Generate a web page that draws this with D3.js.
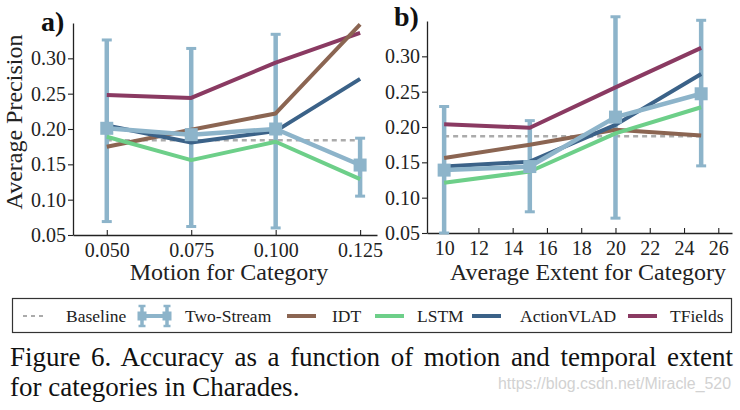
<!DOCTYPE html>
<html>
<head>
<meta charset="utf-8">
<script src="https://cdn.jsdelivr.net/npm/d3@7"></script>
<style>
  body { margin: 0; background: #fff; }
  svg { display: block; }
</style>
</head>
<body>
<svg id="chart" width="740" height="410"></svg>
<script>
// ---------- data ----------
const seriesNames = ["Baseline", "Two-Stream", "IDT", "LSTM", "ActionVLAD", "TFields"];
const yTicks = [0.05, 0.10, 0.15, 0.20, 0.25, 0.30];

// panel a) Motion for Category
const motionX = [0.050, 0.075, 0.100, 0.125];
const motionTicks = [0.050, 0.075, 0.100, 0.125];
const motionBaseline = [0.184, 0.184, 0.184, 0.184];
const motionTwoStream = [0.201, 0.192, 0.200, 0.149];
const motionTwoStreamLow = [0.069, 0.062, 0.060, 0.105];
const motionTwoStreamHigh = [0.326, 0.314, 0.334, 0.187];
const motionIDT = [0.175, 0.199, 0.222, 0.348];
const motionLSTM = [0.189, 0.156, 0.182, 0.129];
const motionActionVLAD = [0.205, 0.181, 0.197, 0.271];
const motionTFields = [0.248, 0.244, 0.294, 0.336];

// panel b) Average Extent for Category
const extentX = [10, 15, 20, 25];
const extentTicks = [10, 12, 14, 16, 18, 20, 22, 24, 26];
const extentBaseline = [0.187, 0.187, 0.187, 0.187];
const extentTwoStream = [0.139, 0.144, 0.214, 0.247];
const extentTwoStreamLow = [0.050, 0.080, 0.071, 0.145];
const extentTwoStreamHigh = [0.229, 0.209, 0.356, 0.351];
const extentIDT = [0.156, 0.175, 0.196, 0.188];
const extentLSTM = [0.121, 0.137, 0.191, 0.228];
const extentActionVLAD = [0.144, 0.151, 0.203, 0.275];
const extentTFields = [0.204, 0.199, 0.256, 0.312];

const captionLines = ["Figure 6. Accuracy as a function of motion and temporal extent",
                      "for categories in Charades."];
const watermark = "https://blog.csdn.net/Miracle_520";

// ---------- style ----------
const SERIF = "'Liberation Serif', 'Times New Roman', serif";
const SANS = "'Liberation Sans', Arial, sans-serif";
const colors = {
  "Baseline": "#ababab",
  "Two-Stream": "#8db4ca",
  "IDT": "#8b6552",
  "LSTM": "#6dcf89",
  "ActionVLAD": "#3b6288",
  "TFields": "#8a3a62"
};
const axisColor = "#222";

const svg = d3.select("#chart");

function drawPanel(p) {
  const x = d3.scaleLinear().domain(p.xDomain).range(p.xRange);
  const y = d3.scaleLinear().domain([0.05, 0.35]).range(p.yRange);
  const g = svg.append("g");

  // axes
  const ya = d3.axisLeft(y).tickValues(yTicks).tickFormat(d3.format(".2f"))
    .tickSize(5).tickSizeOuter(0).tickPadding(2);
  const gy = g.append("g").attr("transform", `translate(${p.xRange[0]},0)`).call(ya);
  const xa = d3.axisBottom(x).tickValues(p.ticks).tickFormat(p.fmt)
    .tickSize(-5).tickSizeOuter(0).tickPadding(8);
  const gx = g.append("g").attr("transform", `translate(0,${p.yRange[0]})`).call(xa);
  [gx, gy].forEach(a => {
    a.select(".domain").attr("stroke", axisColor).attr("stroke-width", 1.3);
    a.selectAll(".tick line").attr("stroke", axisColor).attr("stroke-width", 1.1);
    a.selectAll(".tick text").attr("fill", axisColor)
      .style("font-family", SERIF).style("font-size", "20px");
  });

  const line = d3.line().x((d, i) => x(p.xs[i])).y(d => y(d));

  // baseline
  g.append("path").datum(p.baseline).attr("d", line)
    .attr("fill", "none").attr("stroke", colors["Baseline"])
    .attr("stroke-width", 2.4).attr("stroke-dasharray", "5,4");

  // error bars
  const eb = g.append("g").attr("stroke", colors["Two-Stream"]);
  p.xs.forEach((xv, i) => {
    const cx = x(xv);
    eb.append("line").attr("x1", cx).attr("x2", cx)
      .attr("y1", y(p.low[i])).attr("y2", y(p.high[i])).attr("stroke-width", 4.5);
    [p.low[i], p.high[i]].forEach(v => {
      eb.append("line").attr("x1", cx - 5).attr("x2", cx + 5)
        .attr("y1", y(v)).attr("y2", y(v)).attr("stroke-width", 3);
    });
  });

  // other series
  [["TFields", p.tfields], ["IDT", p.idt], ["LSTM", p.lstm], ["ActionVLAD", p.actionvlad]]
    .forEach(([name, vals]) => {
      g.append("path").datum(vals).attr("d", line)
        .attr("fill", "none").attr("stroke", colors[name])
        .attr("stroke-width", 4).attr("stroke-linejoin", "round");
    });

  // two-stream line + markers
  g.append("path").datum(p.twoStream).attr("d", line)
    .attr("fill", "none").attr("stroke", colors["Two-Stream"])
    .attr("stroke-width", 4.5).attr("stroke-linejoin", "round");
  g.selectAll("rect.m").data(p.twoStream).join("rect")
    .attr("x", (d, i) => x(p.xs[i]) - 6.5).attr("y", d => y(d) - 6.5)
    .attr("width", 13).attr("height", 13).attr("fill", colors["Two-Stream"]);

  // panel letter
  g.append("text").attr("x", p.letterX).attr("y", p.letterY)
    .style("font-family", SERIF).style("font-weight", "bold").style("font-size", "28px")
    .attr("fill", "#111").text(p.letter);

  // x label
  g.append("text").attr("x", p.xLabelX).attr("y", 280).attr("text-anchor", "middle")
    .style("font-family", SERIF).style("font-size", "24px").attr("fill", axisColor)
    .text(p.xLabel);
}

drawPanel({
  xDomain: [0.04, 0.13], xRange: [73, 377], yRange: [235, 23],
  ticks: motionTicks, fmt: d3.format(".3f"), xs: motionX,
  baseline: motionBaseline, twoStream: motionTwoStream,
  low: motionTwoStreamLow, high: motionTwoStreamHigh,
  idt: motionIDT, lstm: motionLSTM, actionvlad: motionActionVLAD, tfields: motionTFields,
  letter: "a)", letterX: 41, letterY: 31, xLabel: "Motion for Category", xLabelX: 229
});
drawPanel({
  xDomain: [9, 26.8], xRange: [427, 732], yRange: [233, 21],
  ticks: extentTicks, fmt: d3.format("d"), xs: extentX,
  baseline: extentBaseline, twoStream: extentTwoStream,
  low: extentTwoStreamLow, high: extentTwoStreamHigh,
  idt: extentIDT, lstm: extentLSTM, actionvlad: extentActionVLAD, tfields: extentTFields,
  letter: "b)", letterX: 394, letterY: 26, xLabel: "Average Extent for Category", xLabelX: 588
});

// y label
svg.append("text").attr("transform", "translate(22,122) rotate(-90)")
  .attr("text-anchor", "middle")
  .style("font-family", SERIF).style("font-size", "24px").attr("fill", axisColor)
  .text("Average Precision");

// ---------- legend ----------
const legendIconX = [23, 138, 287, 375, 472, 628];
const legendTextX = [66, 185, 332, 417, 520, 670];
const lg = svg.append("g");
lg.append("rect").attr("x", 12.5).attr("y", 298.5).attr("width", 719).attr("height", 34)
  .attr("fill", "#fff").attr("stroke", "#333").attr("stroke-width", 1.2);
const ly = 316;
seriesNames.forEach((name, i) => {
  const ix = legendIconX[i];
  if (name === "Baseline") {
    lg.append("line").attr("x1", ix).attr("x2", ix + 21).attr("y1", ly).attr("y2", ly)
      .attr("stroke", colors[name]).attr("stroke-width", 2).attr("stroke-dasharray", "4,4");
  } else if (name === "Two-Stream") {
    lg.append("line").attr("x1", ix + 4).attr("x2", ix + 29).attr("y1", ly).attr("y2", ly)
      .attr("stroke", colors[name]).attr("stroke-width", 4);
    [ix + 4, ix + 29].forEach(cx => {
      lg.append("line").attr("x1", cx).attr("x2", cx).attr("y1", ly - 10).attr("y2", ly + 10)
        .attr("stroke", colors[name]).attr("stroke-width", 3.5);
      [ly - 10, ly + 10].forEach(cy => lg.append("line").attr("x1", cx - 3.5).attr("x2", cx + 3.5)
        .attr("y1", cy).attr("y2", cy).attr("stroke", colors[name]).attr("stroke-width", 2.5));
      lg.append("rect").attr("x", cx - 4.5).attr("y", ly - 4.5).attr("width", 9).attr("height", 9)
        .attr("fill", colors[name]);
    });
  } else {
    lg.append("line").attr("x1", ix).attr("x2", ix + 29).attr("y1", ly).attr("y2", ly)
      .attr("stroke", colors[name]).attr("stroke-width", 4);
  }
  lg.append("text").attr("x", legendTextX[i]).attr("y", 322)
    .style("font-family", SERIF).style("font-size", "17.5px").attr("fill", "#222")
    .text(name);
});

// ---------- caption ----------
const cap1 = svg.append("text").attr("x", 10).attr("y", 366)
  .style("font-family", SERIF).style("font-size", "27px").attr("fill", "#111")
  .text(captionLines[0]);
const len1 = cap1.node().getComputedTextLength();
const spaces = (captionLines[0].match(/ /g) || []).length;
cap1.style("word-spacing", ((723 - len1) / spaces) + "px");
svg.append("text").attr("x", 10).attr("y", 396)
  .style("font-family", SERIF).style("font-size", "27px").attr("fill", "#111")
  .text(captionLines[1]);

svg.append("text").attr("x", 498).attr("y", 389)
  .style("font-family", SANS).style("font-size", "16px").attr("fill", "#d2d2d2")
  .attr("textLength", 233).attr("lengthAdjust", "spacingAndGlyphs")
  .text(watermark);
</script>
</body>
</html>
